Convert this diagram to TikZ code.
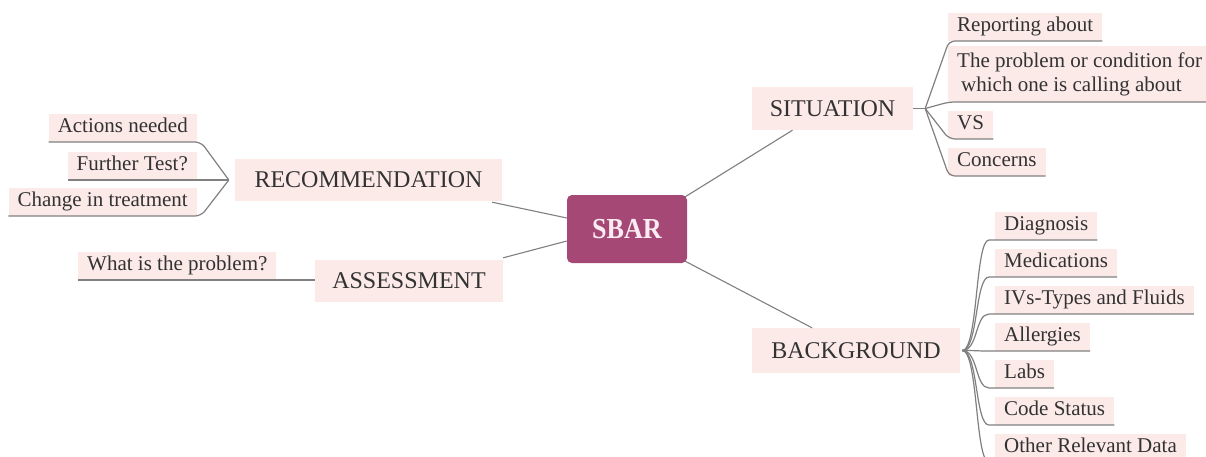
\documentclass[tikz,border=0pt]{standalone}
\usepackage{fontspec}
\setmainfont{Liberation Serif}
\newfontfamily\sbarfont[FakeStretch=0.9]{Liberation Serif}
\usetikzlibrary{calc}
\definecolor{boxpink}{RGB}{252,234,233}
\definecolor{sbarfill}{RGB}{166,72,118}
\definecolor{linegray}{RGB}{128,128,128}
\definecolor{txt}{RGB}{50,50,50}
\definecolor{sbartxt}{RGB}{250,236,242}
\tikzset{
  topic/.style={fill=boxpink, text=txt, font=\fontsize{24}{28}\selectfont, inner sep=0pt, align=center},
  leafbase/.style={fill=boxpink, text=txt, font=\fontsize{21}{24}\selectfont, inner xsep=9pt, inner ysep=4pt},
  leaf/.style={leafbase, text height=15pt, text depth=5pt},
  sbarbox/.style={fill=sbarfill, rounded corners=5pt, text=sbartxt, font=\sbarfont\bfseries\fontsize{29}{32}\selectfont, minimum width=120pt, minimum height=68pt, inner sep=0pt},
  branch/.style={draw=linegray, line width=1.2pt},
  link/.style={draw=linegray, line width=1.1pt},
}
\begin{document}
\begin{tikzpicture}[x=1pt,y=-1pt]
\useasboundingbox[fill=white] (0,0) rectangle (1206,457);

% central node
\node[sbarbox] (sbar) at (627,229) {SBAR};

% topics
\node[topic, minimum width=267pt, minimum height=42pt] (rec) at (368.5,180) {RECOMMENDATION};
\node[topic, minimum width=188pt, minimum height=42pt] (ass) at (409,281) {ASSESSMENT};
\node[topic, minimum width=161pt, minimum height=43pt] (sit) at (832.5,108.5) {SITUATION};
\node[topic, minimum width=208pt, minimum height=45pt] (back) at (856,350.5) {BACKGROUND};

% links from SBAR
\draw[link] ($(sbar.north east)+(-2,2)$) -- ($(sit.south)+(-40,0)$);
\draw[link] ($(sbar.south east)+(-2,-2)$) -- ($(back.north)+(-44,0)$);
\draw[link] ($(sbar.west)+(0,-11)$) -- ($(rec.south east)+(-10,1)$);
\draw[link] ($(sbar.west)+(0,12)$) -- ($(ass.north east)+(0,-2)$);

% recommendation leaves
\node[leaf, anchor=south east] (act) at (197,142) {Actions needed};
\node[leaf, anchor=south east] (fur) at (197,180) {Further Test?};
\node[leaf, anchor=south east] (chg) at (197,216) {Change in treatment};
\coordinate (rb) at ($(rec.west)+(-6,0)$);
\draw[branch, rounded corners=6pt] (act.south west) -- ($(act.south east)+(4,0)$) -- (rb);
\draw[branch] (fur.south west) -- (rb);
\draw[branch, rounded corners=6pt] (chg.south west) -- ($(chg.south east)+(4,0)$) -- (rb);

% assessment leaf
\node[leaf, anchor=south west] (wip) at (78,280) {What is the problem?};
\draw[branch] (wip.south west) -- (wip.south -| ass.west);

% situation leaves
\node[leaf, anchor=south west] (rep) at (948,41) {Reporting about};
\node[leafbase, anchor=south west, align=left, inner ysep=6pt] (prob) at (948,102) {The problem or condition for\\\hspace{4pt}which one is calling about};
\node[leaf, anchor=south west] (vs) at (948,139) {VS};
\node[leaf, anchor=south west] (con) at (948,176) {Concerns};
\coordinate (sb) at ($(sit.east)+(12,0)$);
\draw[branch] (sit.east) -- (sb);
\foreach \n in {rep,prob,vs,con}{
  \draw[branch, rounded corners=6pt] (sb) -- ($(\n.south west)+(1,0)$) -- (\n.south east);
}

% background leaves
\node[leaf, anchor=south west] (diag) at (995,240) {Diagnosis};
\node[leaf, anchor=south west] (med) at (995,277) {Medications};
\node[leaf, anchor=south west] (ivs) at (995,314) {IVs-Types and Fluids};
\node[leaf, anchor=south west] (all) at (995,351) {Allergies};
\node[leaf, anchor=south west] (labs) at (995,388) {Labs};
\node[leaf, anchor=south west] (code) at (995,425) {Code Status};
\node[leaf, anchor=south west] (oth) at (995,462) {Other Relevant Data};
\coordinate (bb) at ($(back.east)+(2,0)$);
\foreach \n in {diag,med,ivs,all,labs,code,oth}{
  \draw[branch] (bb) .. controls +(16,0) and +(-14,0) .. ($(\n.south west)+(-6,0)$) -- (\n.south east);
}
\end{tikzpicture}
\end{document}
